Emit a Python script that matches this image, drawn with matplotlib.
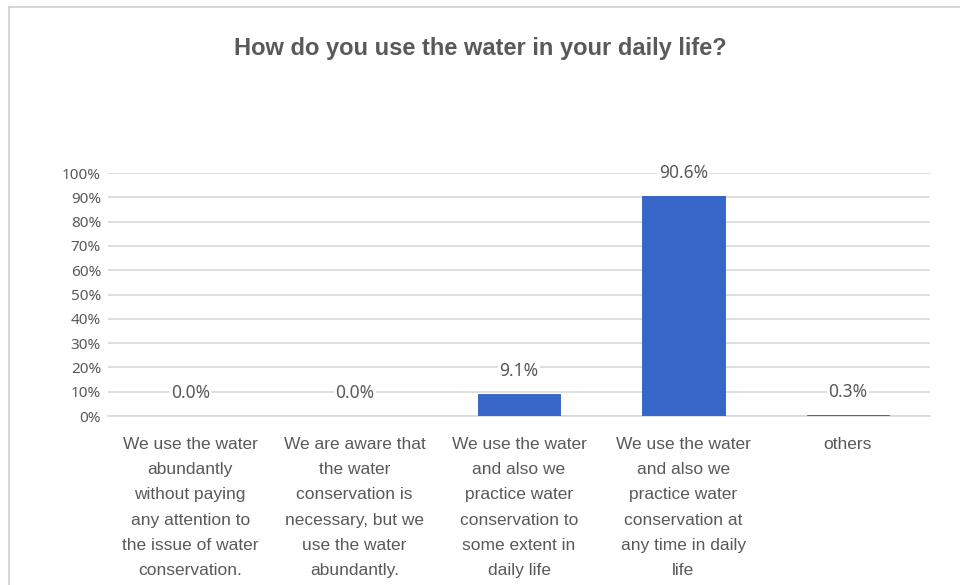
import matplotlib

matplotlib.use("Agg")

import matplotlib.pyplot as plt
from matplotlib.lines import Line2D
import numpy as np

categories = [
    "We use the water\nabundantly\nwithout paying\nany attention to\nthe issue of water\nconservation.",
    "We are aware that\nthe water\nconservation is\nnecessary, but we\nuse the water\nabundantly.",
    "We use the water\nand also we\npractice water\nconservation to\nsome extent in\ndaily life",
    "We use the water\nand also we\npractice water\nconservation at\nany time in daily\nlife",
    "others",
]
shares = [0.0, 0.0, 9.1, 90.6, 0.3]
y_ticks = [0, 10, 20, 30, 40, 50, 60, 70, 80, 90, 100]
title = "How do you use the water in your daily life?"

text_grey = "#595959"
grid_grey = "#d9d9d9"
bar_blue = "#3566c8"

fig = plt.figure(figsize=(9.6, 5.85), dpi=100)
ax = fig.add_axes([108 / 960, 1 - 416 / 585, 822 / 960, 243 / 585])

x = np.arange(len(categories))
ax.bar(x, shares, width=0.5, color=bar_blue, edgecolor="#2d5cbc", linewidth=0.6, zorder=3)

for xi, val in zip(x, shares):
    ax.text(xi, val + 9.5, f"{val:.1f}%", ha="center", va="center",
            fontsize=12.5, color=text_grey, family="Noto Sans", zorder=4,
            bbox=dict(facecolor="white", edgecolor="none", pad=1))

ax.set_xlim(-0.5, len(categories) - 0.5)
ax.set_ylim(0, 100)
ax.set_yticks(y_ticks)
ax.set_yticklabels([f"{t}%" for t in y_ticks], fontsize=11, color=text_grey, family="Noto Sans")
ax.yaxis.grid(True, color=grid_grey, linewidth=1.2, zorder=0)
ax.tick_params(axis="y", length=0, pad=5)
ax.tick_params(axis="x", length=0)
ax.set_xticks(x)
ax.set_xticklabels([])
for spine in ["top", "right", "left"]:
    ax.spines[spine].set_visible(False)
ax.spines["bottom"].set_color(grid_grey)
ax.spines["bottom"].set_linewidth(1.2)

for xi, label in zip(x, categories):
    ax.text(xi, -0.085, label, transform=ax.get_xaxis_transform(), ha="center", va="top",
            fontsize=12.5, color=text_grey, family="Liberation Sans", linespacing=1.86)

fig.text(0.5, 1 - 49 / 585, title, ha="center", va="center", fontsize=17,
         fontweight="bold", color=text_grey, family="Liberation Sans")

# chart frame (left and top edges visible)
fig.add_artist(Line2D([9 / 960, 9 / 960], [0, 1 - 7 / 585], transform=fig.transFigure,
                      color="#d0d0d0", linewidth=1.2))
fig.add_artist(Line2D([9 / 960, 1], [1 - 7 / 585, 1 - 7 / 585], transform=fig.transFigure,
                      color="#d0d0d0", linewidth=1.2))

fig.savefig("out.png", dpi=100)
plt.close(fig)
